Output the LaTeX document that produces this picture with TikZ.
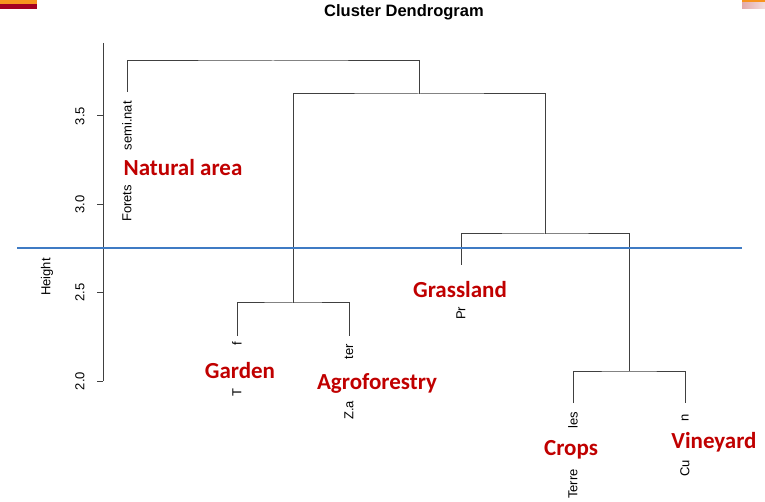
\documentclass[tikz,border=0pt]{standalone}
\usepackage{fontspec}
\setmainfont{Liberation Sans}
\newfontfamily\calibfont{Carlito}

\definecolor{treegray}{HTML}{404040}
\definecolor{cutblue}{HTML}{3F7BC4}
\definecolor{groupred}{HTML}{C00000}
\definecolor{bandorange}{HTML}{F7941E}
\definecolor{banddark}{HTML}{A50021}
\definecolor{bandpink}{HTML}{E2AAAA}

\tikzset{
  tree/.style={draw=treegray, line width=1pt},
  leaftop/.style={rotate=90, anchor=east, inner sep=0pt, font=\fontsize{13}{13}\selectfont},
  leafbot/.style={rotate=90, anchor=west, inner sep=0pt, font=\fontsize{13}{13}\selectfont},
  group/.style={text=groupred, inner sep=1pt, font=\calibfont\bfseries\fontsize{23}{23}\selectfont},
  ticklab/.style={rotate=90, inner sep=0pt, font=\fontsize{13}{13}\selectfont},
}

\begin{document}
\begin{tikzpicture}[x=1pt, y=-1pt]
        \useasboundingbox (0,0) rectangle (765,502);

        % Corner bands
        \fill[bandorange] (0,0) rectangle (37,4);
        \fill[banddark] (0,4) rectangle (37,9);
        \fill[bandorange] (742,0) rectangle (765,3);
        \shade[left color=bandpink, right color=bandpink!40] (742,3) rectangle (765,9);

        % Title
        \node[font=\bfseries\fontsize{16.5}{16.5}\selectfont] (title) at (404,12) {Cluster Dendrogram};

        % Draw axis
        \draw[treegray, line width=1pt] (103,43) -- (103,381);
        \foreach \h/\lab in {381/2.0, 292.7/2.5, 204.3/3.0, 116/3.5} {
            \draw[treegray, line width=1pt] (97,\h) -- (103,\h);
            \node[ticklab] at (80,\h) {\lab};
        }
        \node[ticklab] (ylab) at (47,277) {Height};

        % Leaves
        \coordinate (lf) at (127,92);
        \coordinate (lg) at (237,336);
        \coordinate (la) at (349,336);
        \coordinate (lp) at (461,265);
        \coordinate (lc) at (573,403);
        \coordinate (lv) at (685,403);

        % Merges
        \coordinate (mga) at (293,303);
        \coordinate (mcv) at (629,371);
        \coordinate (mpcv) at (545,234);
        \coordinate (mmid) at (419,94);
        \coordinate (mroot) at (273,61);

        % Draw tree
        \draw[tree] (lg) |- (mga) -| (la);
        \draw[tree] (lc) |- (mcv) -| (lv);
        \draw[tree] (lp) |- (mpcv) -| (mcv);
        \draw[tree] (mga) |- (mmid) -| (mpcv);
        \draw[tree] (lf) |- (mroot) -| (mmid);

        % Cut line
        \coordinate (cutl) at (17,248);
        \coordinate (cutr) at (742,248);
        \draw[cutblue, line width=1.2pt] (cutl) -- (cutr);

        % Leaf labels (partly hidden)
        \node[leaftop] (fsn) at (127,101) {semi.nat};
        \node[leafbot] (fsf) at (127,222) {Forets};
        \node[leaftop] (gt) at (237,342) {f};
        \node[leafbot] (gb) at (237,397) {T};
        \node[leaftop] (at) at (349,344) {ter};
        \node[leafbot] (ab) at (349,420) {Z.a};
        \node[leafbot] (pb) at (461,320) {Pr};
        \node[leaftop] (ct) at (573,412) {les};
        \node[leafbot] (cb) at (573,499) {Terre};
        \node[leaftop] (vt) at (685,414) {n};
        \node[leafbot] (vb) at (685,477) {Cu};

        % Group names
        \node[group] (natural) at (183,168) {Natural area};
        \node[group] (garden) at (240,371) {Garden};
        \node[group] (agro) at (377,383) {Agroforestry};
        \node[group] (grass) at (460,290) {Grassland};
        \node[group] (crops) at (571,450) {Crops};
        \node[group] (vine) at (714,442) {Vineyard};
    \end{tikzpicture}
\end{document}
